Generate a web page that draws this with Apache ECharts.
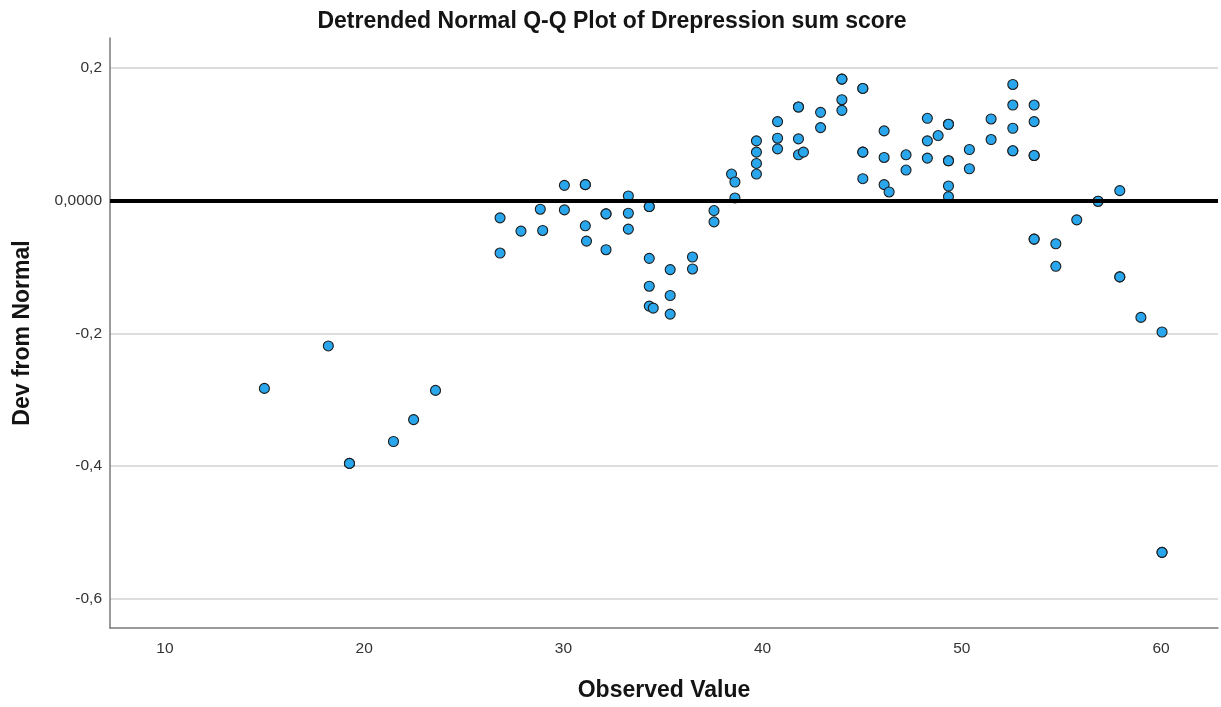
<!DOCTYPE html>
<html>
<head>
<meta charset="utf-8">
<title>Detrended Normal Q-Q Plot</title>
<script src="https://cdn.jsdelivr.net/npm/echarts@6/dist/echarts.min.js"></script>
<style>
  html, body { margin: 0; padding: 0; background: #ffffff; }
  #chart { width: 1221px; height: 707px; }
</style>
</head>
<body>
<div id="chart"></div>
<script>
// Observed depression sum scores (x) and their deviation from the normal quantile (y)
const observed = [
  14.99, 18.20, 19.26, 19.26, 21.47, 22.48, 23.58,
  26.82, 26.82, 27.87, 28.84, 28.96, 30.05, 30.05,
  31.10, 31.10, 31.10, 31.16, 32.14, 32.14, 32.14,
  33.26, 33.26, 33.26, 34.31, 34.31, 34.31, 34.31, 34.31, 34.51,
  35.36, 35.36, 35.36, 36.48, 36.48, 37.56, 37.56,
  38.44, 38.61, 38.61, 39.69, 39.69, 39.69, 39.69,
  40.75, 40.75, 40.75, 41.80, 41.80, 41.80, 41.80, 42.05,
  42.91, 42.91, 43.98, 43.98, 43.98, 43.98,
  45.03, 45.03, 45.03, 45.03, 45.03,
  46.10, 46.10, 46.10, 46.35, 47.20, 47.20,
  48.27, 48.27, 48.27, 48.81,
  49.33, 49.33, 49.33, 49.33, 49.33, 49.33,
  50.38, 50.38, 51.47, 51.47,
  52.56, 52.56, 52.56, 52.56, 52.56,
  53.63, 53.63, 53.63, 53.63, 53.63, 53.63,
  54.72, 54.72, 55.77, 56.84, 56.84, 57.93, 57.93, 57.93,
  58.99, 60.05, 60.05, 60.05
];
const deviation = [
  -0.283, -0.219, -0.396, -0.396, -0.363, -0.330, -0.286,
  -0.026, -0.079, -0.046, -0.013, -0.045, 0.023, -0.014,
  0.024, 0.024, -0.038, -0.061, -0.020, -0.020, -0.074,
  0.007, -0.019, -0.043, -0.009, -0.009, -0.087, -0.129, -0.159, -0.162,
  -0.104, -0.143, -0.171, -0.085, -0.103, -0.015, -0.032,
  0.040, 0.028, 0.004, 0.090, 0.073, 0.056, 0.040,
  0.119, 0.094, 0.078, 0.141, 0.141, 0.093, 0.069, 0.073,
  0.133, 0.110, 0.183, 0.183, 0.152, 0.136,
  0.169, 0.169, 0.073, 0.073, 0.033,
  0.105, 0.065, 0.024, 0.013, 0.069, 0.046,
  0.124, 0.090, 0.064, 0.098,
  0.115, 0.115, 0.060, 0.060, 0.022, 0.006,
  0.077, 0.048, 0.123, 0.092,
  0.175, 0.144, 0.109, 0.075, 0.075,
  0.144, 0.119, 0.068, 0.068, -0.058, -0.058,
  -0.065, -0.099, -0.029, -0.001, -0.001, 0.015, -0.115, -0.115,
  -0.176, -0.198, -0.530, -0.530
];

// Axis extents
const xRange = [7.24, 62.86];
const yRange = [-0.644, 0.245];

const points = observed.map((v, i) => [v, deviation[i]]);

const FONT = 'Liberation Sans, Arial, sans-serif';

const chart = echarts.init(document.getElementById('chart'), null, { renderer: 'canvas' });

// Decimal comma labels; the zero line is printed with four decimals
const fmtY = (v) => {
  if (Math.abs(v) < 1e-9) return '0,0000';
  return (Math.round(v * 10) / 10).toFixed(1).replace('.', ',');
};

chart.setOption({
  animation: false,
  backgroundColor: '#ffffff',
  textStyle: { fontFamily: FONT },
  title: {
    text: 'Detrended Normal Q-Q Plot of Drepression sum score',
    left: 607,
    top: 5,
    textAlign: 'center',
    textStyle: {
      fontFamily: FONT,
      fontSize: 23,
      fontWeight: 'bold',
      color: '#141414'
    }
  },
  grid: {
    left: 110, right: 3, top: 38, bottom: 79,
    containLabel: false,
    outerBoundsMode: 'none'
  },
  xAxis: {
    type: 'value',
    min: xRange[0],
    max: xRange[1],
    splitNumber: 5,
    name: 'Observed Value',
    nameLocation: 'middle',
    nameGap: 51,
    nameTextStyle: {
      fontFamily: FONT,
      fontSize: 23,
      fontWeight: 'bold',
      color: '#141414'
    },
    axisLine: { show: true, onZero: false, lineStyle: { color: '#7a7a7a', width: 1.5 } },
    axisTick: { show: false },
    splitLine: { show: false },
    axisLabel: {
      showMinLabel: false,
      showMaxLabel: false,
      margin: 13,
      fontSize: 15.5,
      color: '#333333',
      fontFamily: FONT
    }
  },
  yAxis: {
    type: 'value',
    min: yRange[0],
    max: yRange[1],
    splitNumber: 5,
    name: 'Dev from Normal',
    nameLocation: 'middle',
    nameGap: 76,
    nameRotate: 90,
    nameTextStyle: {
      fontFamily: FONT,
      fontSize: 23,
      fontWeight: 'bold',
      color: '#141414'
    },
    axisLine: { show: true, onZero: false, lineStyle: { color: '#7a7a7a', width: 1.5 } },
    axisTick: { show: false },
    splitLine: {
      show: true,
      showMinLine: false,
      showMaxLine: false,
      lineStyle: { color: '#d2d2d2', width: 1.5 }
    },
    axisLabel: {
      showMinLabel: false,
      showMaxLabel: false,
      margin: 8,
      fontSize: 15.5,
      color: '#333333',
      fontFamily: FONT,
      formatter: fmtY
    }
  },
  series: [
    {
      type: 'scatter',
      data: points,
      symbol: 'circle',
      symbolSize: 10,
      itemStyle: {
        color: '#2aa6ec',
        borderColor: '#1c1c1c',
        borderWidth: 1.1,
        opacity: 1
      },
      z: 2,
      markLine: {
        silent: true,
        symbol: 'none',
        z: 5,
        label: { show: false },
        lineStyle: { color: '#000000', width: 4, type: 'solid' },
        data: [{ yAxis: 0 }]
      }
    }
  ]
});
</script>
</body>
</html>
